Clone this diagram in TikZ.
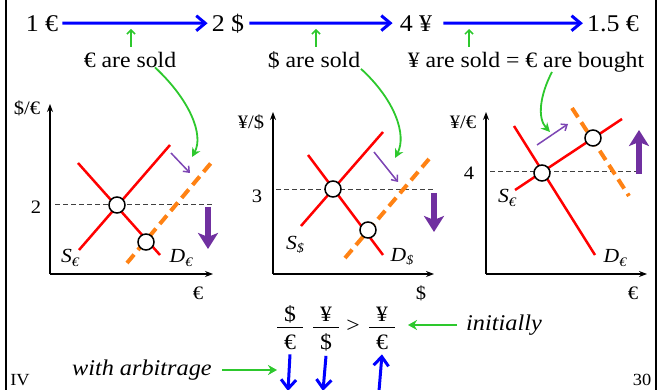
\documentclass[tikz,border=0pt]{standalone}
\usepackage{fontspec}
\setmainfont{Liberation Serif}[FakeStretch=1.08]
\usetikzlibrary{arrows.meta}
\definecolor{myblue}{RGB}{0,0,255}
\definecolor{mygreen}{RGB}{45,200,45}
\definecolor{mypurple}{RGB}{112,48,160}
\definecolor{lightpurple}{RGB}{125,70,180}
\definecolor{myorange}{RGB}{255,130,20}
\definecolor{myred}{RGB}{255,0,0}
\begin{document}
\begin{tikzpicture}[x=1pt,y=-1pt,
  toptxt/.style={font=\fontsize{24}{28}\selectfont, inner sep=1pt, anchor=base},
  labtxt/.style={font=\fontsize{22}{26}\selectfont, inner sep=1pt, anchor=base},
  axtxt/.style={font=\fontsize{19}{22}\selectfont, inner sep=1pt},
  curvetxt/.style={font=\fontsize{20}{24}\selectfont\itshape, inner sep=1pt},
  notetxt/.style={font=\fontsize{22.5}{26}\selectfont\itshape, inner sep=1pt},
  smalltxt/.style={font=\fontsize{17}{19}\selectfont, inner sep=1pt},
  bluearr/.style={draw=myblue, line width=3pt, -{Straight Barb[length=9pt,width=15pt]}},
  greenup/.style={draw=mygreen, line width=1.5pt, -{Straight Barb[length=4pt,width=8pt]}},
  greencurve/.style={draw=mygreen, line width=1.8pt, -{Stealth[length=9pt,width=9pt]}},
  greenh/.style={draw=mygreen, line width=2.5pt, -{Stealth[length=9pt,width=10pt]}},
  axisarr/.style={draw=black, line width=1.3pt, -{Stealth[length=8pt,width=6pt]}},
  redline/.style={draw=myred, line width=2.5pt},
  orangeline/.style={draw=myorange, line width=4pt, dash pattern=on 11pt off 6pt},
  dashline/.style={draw=black!75, line width=1pt, dash pattern=on 5pt off 3pt},
  eqpt/.style={circle, draw=black, fill=white, line width=1.5pt, minimum size=16pt, inner sep=0pt},
  smallpurple/.style={draw=lightpurple, line width=1.5pt, -{Straight Barb[length=5pt,width=8pt]}},
  bigpurple/.style={draw=mypurple, line width=6pt, -{Stealth[length=16pt,width=20pt,inset=4pt]}},
  fracbar/.style={draw=black, line width=1pt}
]
\useasboundingbox (0,0) rectangle (670,390);
% frame
\draw[line width=2.5pt] (6,0) -- (6,390);
\draw[line width=2.5pt] (656,0) -- (656,390);

% top row
\node[toptxt] (n1) at (42,32) {1 €};
\node[toptxt] (n2) at (228,32) {2 \$};
\node[toptxt] (n3) at (416,32) {4 ¥};
\node[toptxt] (n4) at (613,32) {1.5 €};
\draw[bluearr] (n1.east) ++(3,-1) -- ([xshift=-3pt,yshift=1pt]n2.west);
\draw[bluearr] (n2.east) ++(4,-1) -- ([xshift=-6pt,yshift=1pt]n3.west);
\draw[bluearr] (n3.east) ++(10,-1) -- ([xshift=-3pt,yshift=1pt]n4.west);

\coordinate (u1s) at (131,47); \coordinate (u1e) at (131,29);
\coordinate (u2s) at (316,47); \coordinate (u2e) at (316,29);
\coordinate (u3s) at (469,47); \coordinate (u3e) at (469,29);
\draw[greenup] (u1s) -- (u1e);
\draw[greenup] (u2s) -- (u2e);
\draw[greenup] (u3s) -- (u3e);

\node[labtxt] (l1) at (130,68) {€ are sold};
\node[labtxt] (l2) at (314,68) {\$ are sold};
\node[labtxt] (l3) at (526,68) {¥ are sold = € are bought};

% ===== graph 1 =====
\coordinate (o1) at (50,274);
\coordinate (y1) at (50,104);
\coordinate (x1) at (213,274);
\draw[axisarr] (o1) -- (y1);
\draw[axisarr] (o1) -- (x1);
\node[axtxt] (ya1) at (27,108) {\$/€};
\node[axtxt] (xa1) at (198,293) {€};
\node[axtxt] (t1) at (36,207) {2};
\coordinate (h1a) at (55,205); \coordinate (h1b) at (213,205);
\draw[dashline] (h1a) -- (h1b);
\coordinate (s1a) at (79,250); \coordinate (s1b) at (170,145);
\coordinate (d1a) at (78,163); \coordinate (d1b) at (160,255);
\draw[redline] (s1a) -- (s1b);
\draw[redline] (d1a) -- (d1b);
\coordinate (o1a) at (127,263); \coordinate (o1b) at (211,163);
\draw[orangeline] (o1a) -- (o1b);
\node[eqpt] (e1) at (117,205) {};
\node[eqpt] (e1b) at (146,242) {};
\node[curvetxt] (sl1) at (70,258) {S\raisebox{-0.35ex}{\fontsize{13}{14}\selectfont €}};
\node[curvetxt] (dl1) at (181,258) {D\raisebox{-0.35ex}{\fontsize{13}{14}\selectfont €}};
\coordinate (p1a) at (171,153); \coordinate (p1b) at (190,173);
\draw[smallpurple] (p1a) -- (p1b);
\coordinate (bp1a) at (208,207); \coordinate (bp1b) at (208,249);
\draw[bigpurple] (bp1a) -- (bp1b);
\coordinate (gc1) at (192,157);
\draw[greencurve] ([xshift=25pt,yshift=2pt]l1.south) .. controls (190,100) and (204,135) .. (gc1);

% ===== graph 2 =====
\coordinate (o2) at (273,274);
\coordinate (y2) at (273,112);
\coordinate (x2) at (434,274);
\draw[axisarr] (o2) -- (y2);
\draw[axisarr] (o2) -- (x2);
\node[axtxt] (ya2) at (251,122) {¥/\$};
\node[axtxt] (xa2) at (421,293) {\$};
\node[axtxt] (t2) at (257,196) {3};
\coordinate (h2a) at (276,190); \coordinate (h2b) at (434,190);
\draw[dashline] (h2a) -- (h2b);
\coordinate (s2a) at (301,226); \coordinate (s2b) at (383,132);
\coordinate (d2a) at (308,155); \coordinate (d2b) at (383,255);
\draw[redline] (s2a) -- (s2b);
\draw[redline] (d2a) -- (d2b);
\coordinate (o2a) at (345,258); \coordinate (o2b) at (429,159);
\draw[orangeline] (o2a) -- (o2b);
\node[eqpt] (e2) at (333,189) {};
\node[eqpt] (e2b) at (368,230) {};
\node[curvetxt] (sl2) at (295,245) {S\raisebox{-0.35ex}{\fontsize{13}{14}\selectfont \$}};
\node[curvetxt] (dl2) at (402,257) {D\raisebox{-0.35ex}{\fontsize{13}{14}\selectfont \$}};
\coordinate (p2a) at (374,152); \coordinate (p2b) at (398,182);
\draw[smallpurple] (p2a) -- (p2b);
\coordinate (bp2a) at (434,193); \coordinate (bp2b) at (434,232);
\draw[bigpurple] (bp2a) -- (bp2b);
\coordinate (gc2) at (395,158);
\draw[greencurve] ([xshift=47pt,yshift=2pt]l2.south) .. controls (395,100) and (407,135) .. (gc2);

% ===== graph 3 =====
\coordinate (o3) at (486,274);
\coordinate (y3) at (486,112);
\coordinate (x3) at (647,274);
\draw[axisarr] (o3) -- (y3);
\draw[axisarr] (o3) -- (x3);
\node[axtxt] (ya3) at (463,122) {¥/€};
\node[axtxt] (xa3) at (633,293) {€};
\node[axtxt] (t3) at (469,173) {4};
\coordinate (h3a) at (490,172); \coordinate (h3b) at (640,172);
\draw[dashline] (h3a) -- (h3b);
\coordinate (s3a) at (515,190); \coordinate (s3b) at (622,119);
\coordinate (d3a) at (514,126); \coordinate (d3b) at (595,255);
\draw[redline] (s3a) -- (s3b);
\draw[redline] (d3a) -- (d3b);
\coordinate (o3a) at (572,108); \coordinate (o3b) at (629,196);
\draw[orangeline] (o3a) -- (o3b);
\node[eqpt] (e3) at (542,173) {};
\node[eqpt] (e3b) at (593,138) {};
\node[curvetxt] (sl3) at (507,198) {S\raisebox{-0.35ex}{\fontsize{13}{14}\selectfont €}};
\node[curvetxt] (dl3) at (615,258) {D\raisebox{-0.35ex}{\fontsize{13}{14}\selectfont €}};
\coordinate (p3a) at (537,145); \coordinate (p3b) at (568,124);
\draw[smallpurple] (p3a) -- (p3b);
\coordinate (bp3a) at (639,174); \coordinate (bp3b) at (639,130);
\draw[bigpurple] (bp3a) -- (bp3b);
\coordinate (gc3) at (550,132);
\draw[greencurve] ([xshift=26pt,yshift=2pt]l3.south) .. controls (540,95) and (537,118) .. (gc3);

% ===== bottom =====
\node[labtxt] (fa) at (290,322) {\$};
\node[labtxt] (fb) at (290,349) {€};
\draw[fracbar] (277,328) -- (303,328);
\node[labtxt] (fc) at (326,322) {¥};
\node[labtxt] (fd) at (326,349) {\$};
\draw[fracbar] (313,328) -- (339,328);
\node[labtxt] (gt) at (353,333) {>};
\node[labtxt] (fe) at (382,322) {¥};
\node[labtxt] (ff) at (382,349) {€};
\draw[fracbar] (369,328) -- (395,328);

\node[notetxt, anchor=west] (ini) at (465,325) {initially};
\coordinate (ia) at (457,325); \coordinate (ib) at (408,325);
\draw[greenh] (ia) -- (ib);
\node[notetxt, anchor=east] (arb) at (213,370) {with arbitrage};
\coordinate (aa) at (222,370); \coordinate (ab) at (277,370);
\draw[greenh] (aa) -- (ab);

\coordinate (b1) at (288,391); \coordinate (b2) at (323,391); \coordinate (b3) at (379,391);
\draw[bluearr] ([yshift=-4pt]fb.south) -- (b1);
\draw[bluearr] ([yshift=-4pt]fd.south) -- (b2);
\draw[bluearr] (b3) -- ([yshift=-4pt]ff.south);

\node[smalltxt] (iv) at (20,380) {IV};
\node[smalltxt] (pg) at (642,380) {30};
\end{tikzpicture}
\end{document}
